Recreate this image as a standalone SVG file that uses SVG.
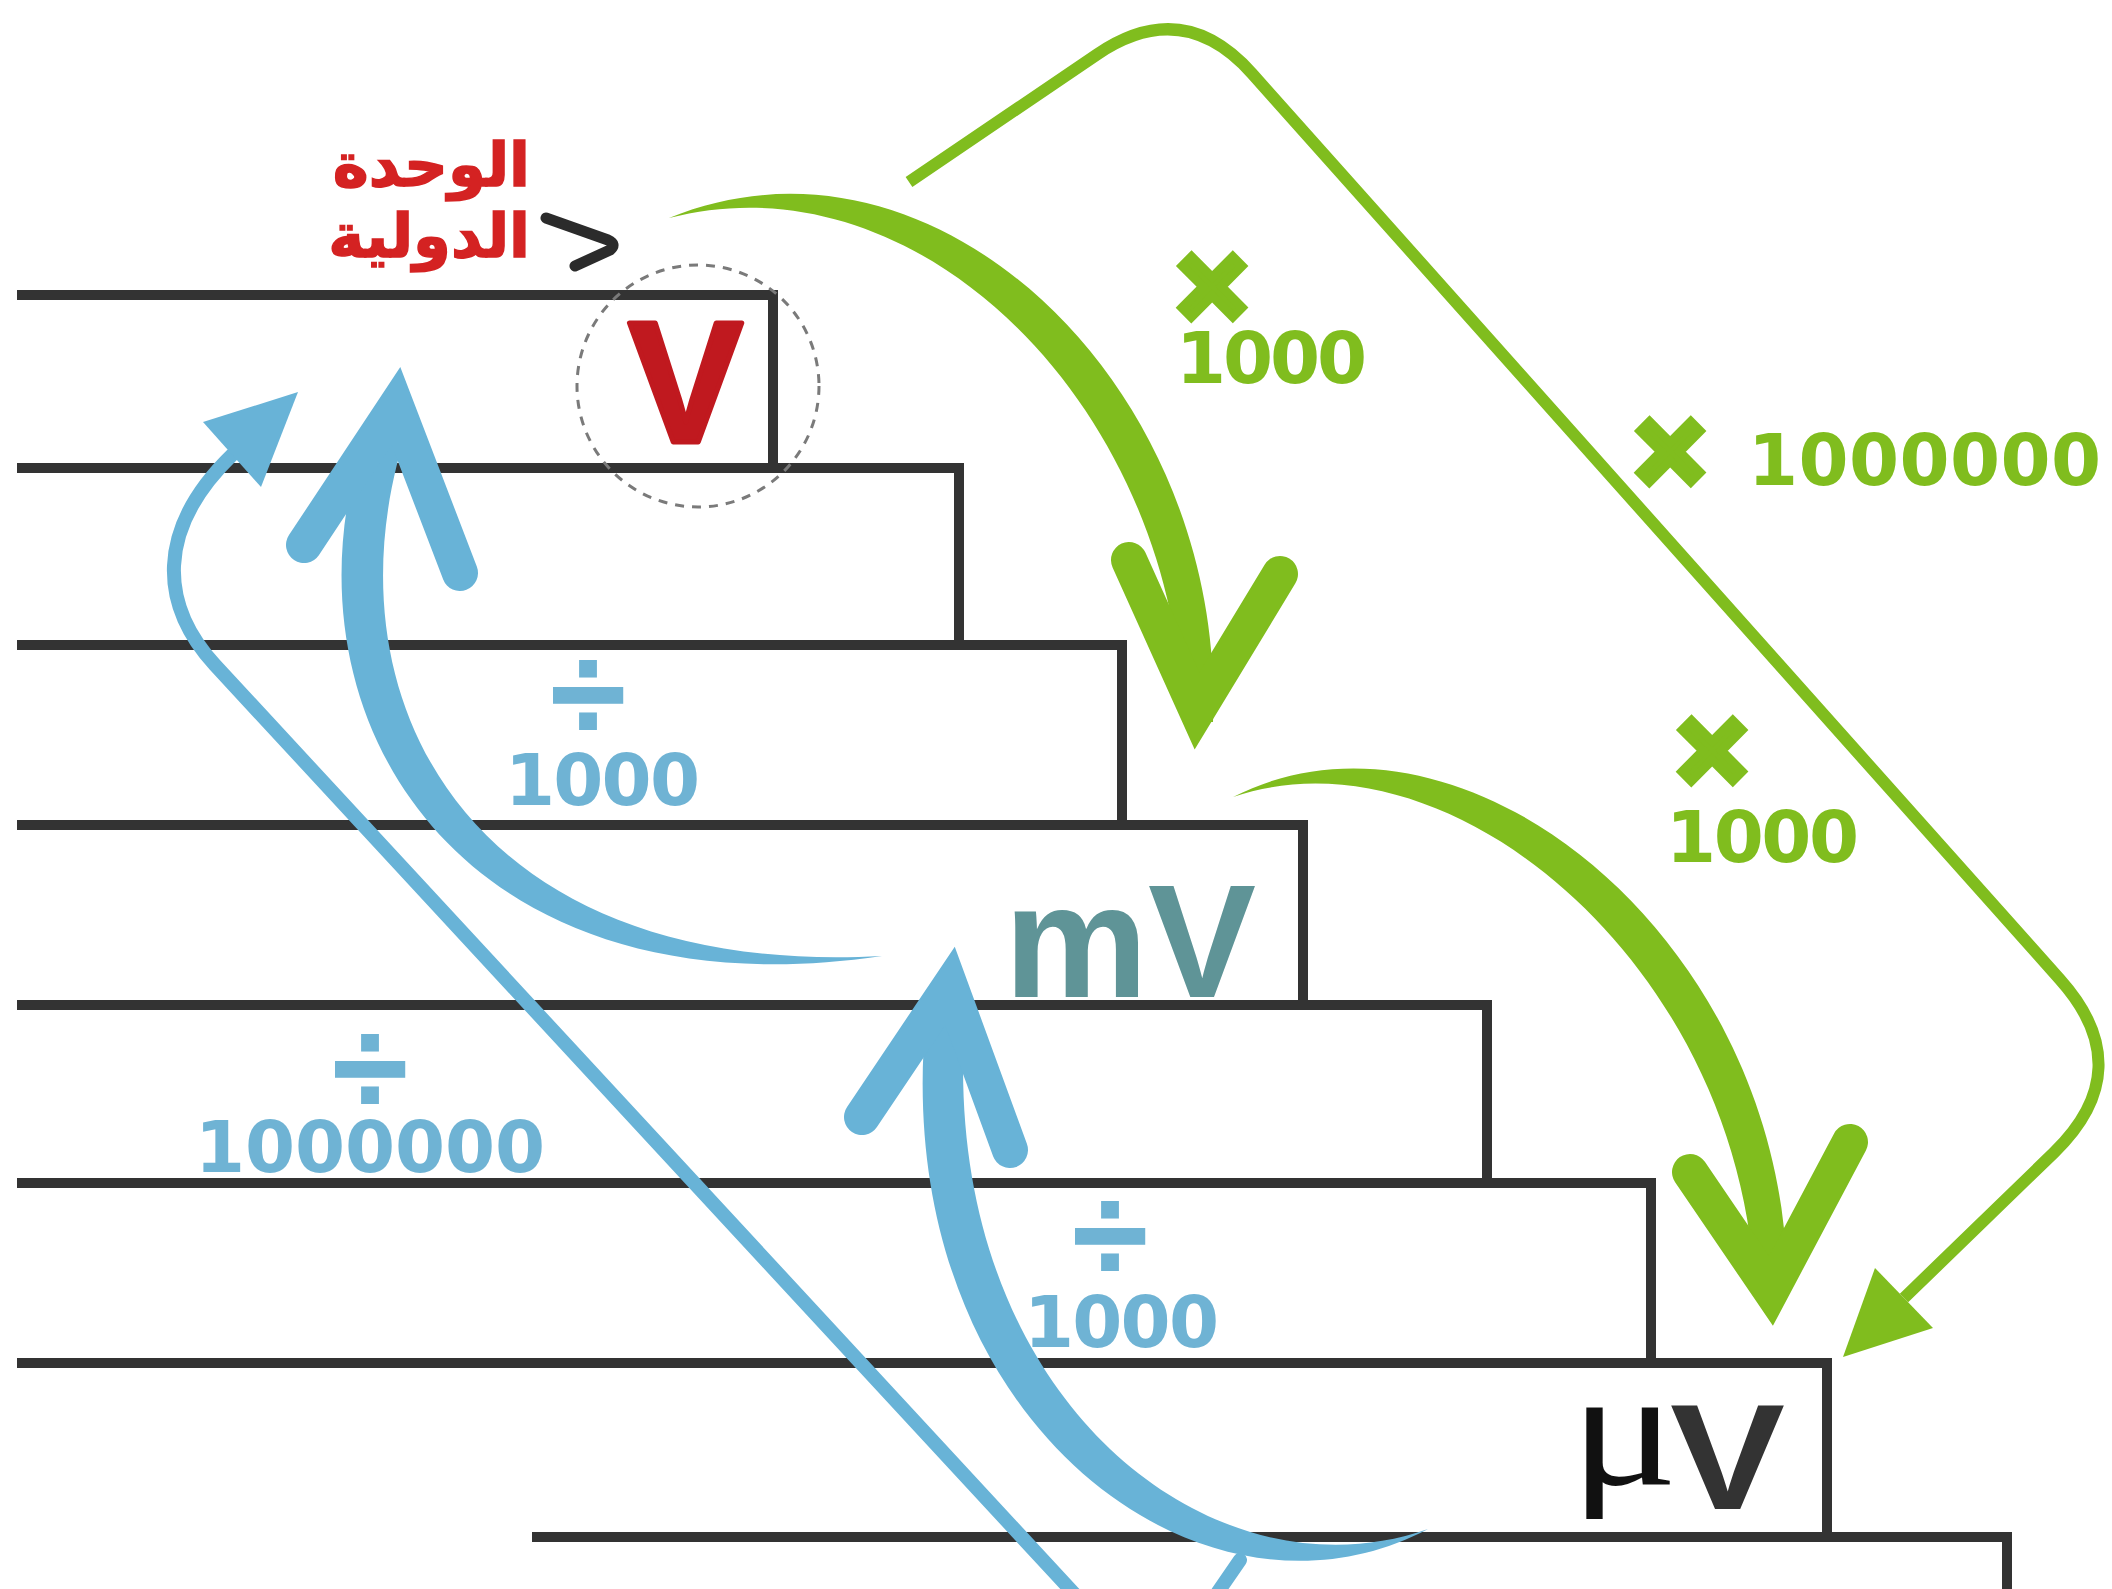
<svg xmlns="http://www.w3.org/2000/svg" width="2112" height="1589" viewBox="0 0 2112 1589">
  <style>
    .step { fill: none; stroke: #333333; stroke-width: 10; stroke-linejoin: miter; stroke-linecap: butt; }
    .g-body { fill: #80bd1e; }
    .g-head { fill: none; stroke: #80bd1e; stroke-width: 36; stroke-linecap: round; stroke-linejoin: miter; }
    .g-line { fill: none; stroke: #80bd1e; stroke-width: 12; stroke-linejoin: round; }
    .b-body { fill: #68b3d7; }
    .b-head { fill: none; stroke: #68b3d7; stroke-width: 36; stroke-linecap: round; stroke-linejoin: miter; }
    .b-line { fill: none; stroke: #68b3d7; stroke-width: 14; stroke-linejoin: round; stroke-linecap: round; }
    .num { font-family: "DejaVu Sans", "Liberation Sans", sans-serif; font-weight: 700; font-size: 72px; }
    .op { font-family: "Liberation Sans", sans-serif; font-weight: 700; text-anchor: middle; }
    .times { font-size: 120px; stroke-width: 9; stroke-linejoin: miter; }
    .div { font-size: 136px; stroke-width: 2; }
    .green { fill: #80bd1e; stroke: #80bd1e; }
    .blue { fill: #6fb3d4; stroke: #6fb3d4; }
    .num.green, .num.blue { stroke: none; }
    .caption { font-family: "DejaVu Sans", sans-serif; font-weight: 700; font-size: 61px; fill: #d42222; stroke: #d42222; stroke-width: 1.5; text-anchor: end; }
  </style>

  <rect width="2112" height="1589" fill="#ffffff"/>

  <!-- staircase: each tread with its riser down to the next tread -->
  <g id="stairs">
    <path class="step" d="M17,295 H773 V468"/>
    <path class="step" d="M17,468 H959 V645"/>
    <path class="step" d="M17,645 H1122 V825"/>
    <path class="step" d="M17,825 H1303 V1005"/>
    <path class="step" d="M17,1005 H1487 V1183"/>
    <path class="step" d="M17,1183 H1651 V1363"/>
    <path class="step" d="M17,1363 H1827 V1537"/>
    <path class="step" d="M532,1537 H2007 V1595"/>
  </g>

  <g id="connectors">
    <!-- V to mV : x 1000 -->
    <g id="arrow-v-mv">
      <path class="g-body" d="M669,218 C937.5,108.2 1226,390 1213,722 L1183,722 C1177,413 922.5,151.8 669,218 Z"/>
      <path class="g-head" d="M1129,560 L1197,711 L1280,574"/>
    </g>
    <!-- mV to uV : x 1000 -->
    <g id="arrow-mv-uv">
      <path class="g-body" d="M1233,797 C1466.7,678 1794,947.6 1787,1298 L1755,1298 C1746,972.4 1453.3,722 1233,797 Z"/>
      <path class="g-head" d="M1690,1172 L1771,1291 L1850,1142"/>
    </g>
    <!-- V to uV : x 1000000 -->
    <g id="arrow-v-uv">
      <path class="g-line" d="M909,182 L1097,54.5 Q1183,-4 1252,73.5 L2060,979.5 Q2140,1069 2054,1152.6 L1904,1298"/>
      <polygon fill="#80bd1e" points="1843,1357 1933,1328 1875,1268"/>
    </g>
    <!-- mV to V : / 1000 -->
    <g id="arrow-mv-v">
      <path class="b-body" d="M882,956 C440.6,1021 262,690 374.2,408.4 L409.8,421.6 C318,686 459.4,979 882,956 Z"/>
      <path class="b-head" d="M304,545 L396,406 L460,573"/>
    </g>
    <!-- uV to mV : / 1000 -->
    <g id="arrow-uv-mv">
      <path class="b-body" d="M1428,1529 C1194.5,1652.3 873,1406 929.1,989.7 L966.9,994.3 C927,1386 1205.5,1607.7 1428,1529 Z"/>
      <path class="b-head" d="M862,1117 L950,986 L1010,1150"/>
    </g>
    <!-- uV to V : / 1000000 -->
    <g id="arrow-uv-v">
      <path class="b-line" d="M1080,1600 L215,665 C160,605 155,530 232,455"/>
      <polygon fill="#68b3d7" points="298,392 203,422 261,487"/>
    </g>
    <path id="tail-fragment" class="b-line" d="M1240,1560 L1218,1592"/>
  </g>

  <!-- conversion factors -->
  <g id="factors">
    <g id="f-v-mv">
      <text class="op times green" x="1212" y="327">×</text>
      <text class="num green" x="1176" y="383" textLength="191">1000</text>
    </g>
    <g id="f-v-uv">
      <text class="op times green" x="1670" y="492">×</text>
      <text class="num green" x="1748" y="485" textLength="353">1000000</text>
    </g>
    <g id="f-mv-uv">
      <text class="op times green" x="1712" y="791">×</text>
      <text class="num green" x="1666" y="862" textLength="193">1000</text>
    </g>
    <g id="f-mv-v">
      <text class="op div blue" x="588" y="740">÷</text>
      <text class="num blue" x="505" y="805" textLength="195">1000</text>
    </g>
    <g id="f-uv-v">
      <text class="op div blue" x="370" y="1114">÷</text>
      <text class="num blue" x="195" y="1172" textLength="350">1000000</text>
    </g>
    <g id="f-uv-mv">
      <text class="op div blue" x="1110" y="1281">÷</text>
      <text class="num blue" x="1024" y="1347" textLength="195">1000</text>
    </g>
  </g>

  <!-- units -->
  <g id="unit-v">
    <circle cx="698" cy="386" r="121" fill="none" stroke="#7a7a7a" stroke-width="3" stroke-dasharray="9 8"/>
    <text x="743" y="442" text-anchor="end" font-family="Liberation Sans, sans-serif" font-weight="700" font-size="172" fill="#c0191f" stroke="#c0191f" stroke-width="5" stroke-linejoin="round">V</text>
  </g>
  <g id="unit-mv">
    <text x="1004" y="997" font-family="Liberation Sans, sans-serif" font-weight="700" font-size="162" fill="#5f9497">mV</text>
  </g>
  <g id="unit-uv">
    <text x="1570" y="1484" font-family="Liberation Serif, serif" font-size="165" fill="#111111" textLength="108" lengthAdjust="spacingAndGlyphs">μ</text>
    <text x="1670" y="1509" font-family="Liberation Sans, sans-serif" font-weight="700" font-size="150" fill="#333333" textLength="115" lengthAdjust="spacingAndGlyphs">V</text>
  </g>

  <!-- SI unit caption with pointer -->
  <g id="si-caption">
    <text class="caption" x="530" y="186">الوحدة</text>
    <text class="caption" x="530" y="257">الدولية</text>
    <path d="M546,218 L608,240 Q617,244 610,250 L575,266" fill="none" stroke="#2b2b2b" stroke-width="11" stroke-linecap="round" stroke-linejoin="round"/>
  </g>
</svg>
